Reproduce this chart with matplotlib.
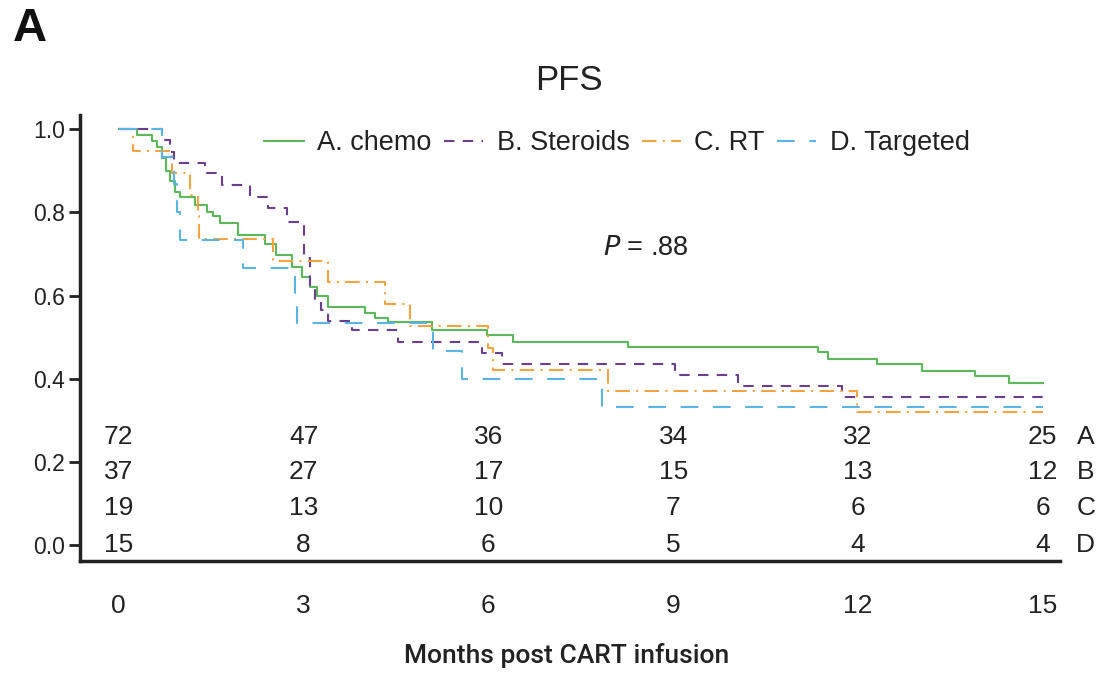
import matplotlib
matplotlib.use("Agg")
import matplotlib.pyplot as plt
import numpy as np

# ---- data ----
a_t = [0, 0.29, 0.54, 0.62, 0.70, 0.76, 0.83, 0.91, 0.99, 1.23, 1.43, 1.53, 1.64, 1.93, 2.37, 2.56, 2.81, 2.97,
       3.10, 3.21, 3.39, 3.99, 4.16, 4.37, 5.08, 5.97, 6.40, 8.26, 11.35, 11.51, 12.31, 13.04, 13.90, 14.46, 15.0]
a_s = [1.0, 0.986, 0.972, 0.958, 0.93, 0.90, 0.875, 0.85, 0.837, 0.817, 0.80, 0.79, 0.775, 0.745, 0.725, 0.697,
       0.668, 0.644, 0.62, 0.60, 0.572, 0.558, 0.546, 0.536, 0.517, 0.505, 0.488, 0.476, 0.464, 0.447, 0.435,
       0.418, 0.406, 0.389, 0.389]

b_t = [0, 0.70, 0.83, 0.89, 1.40, 1.67, 2.13, 2.42, 2.73, 3.00, 3.10, 3.18, 3.28, 3.39, 3.78, 4.53, 5.89, 6.22,
       9.03, 10.05, 11.74, 15.0]
b_s = [1.0, 0.973, 0.946, 0.919, 0.894, 0.865, 0.838, 0.81, 0.776, 0.69, 0.62, 0.59, 0.565, 0.54, 0.517, 0.488,
       0.462, 0.435, 0.408, 0.382, 0.356, 0.356]

c_t = [0, 0.23, 0.87, 1.15, 1.28, 1.30, 2.50, 3.39, 4.32, 4.72, 6.00, 6.08, 7.94, 11.98, 15.0]
c_s = [1.0, 0.947, 0.895, 0.842, 0.79, 0.737, 0.684, 0.632, 0.579, 0.526, 0.474, 0.421, 0.37, 0.32, 0.32]

d_t = [0, 0.70, 0.90, 0.95, 1.00, 2.01, 2.86, 2.90, 5.10, 5.57, 7.84, 15.0]
d_s = [1.0, 0.933, 0.867, 0.80, 0.733, 0.667, 0.60, 0.533, 0.467, 0.40, 0.333, 0.333]

labels = ["A. chemo", "B. Steroids", "C. RT", "D. Targeted"]
colors = ["#5cb85a", "#6b3f8f", "#f4a340", "#5ab4e6"]

risk_times = [0, 3, 6, 9, 12, 15]
risk_A = [72, 47, 36, 34, 32, 25]
risk_B = [37, 27, 17, 15, 13, 12]
risk_C = [19, 13, 10, 7, 6, 6]
risk_D = [15, 8, 6, 5, 4, 4]
risk_rows = ["A", "B", "C", "D"]

xticks = [0, 3, 6, 9, 12, 15]
yticks = [0.0, 0.2, 0.4, 0.6, 0.8, 1.0]

# ---- figure ----
plt.rcParams['font.family'] = ['Liberation Sans', 'DejaVu Sans']
fig = plt.figure(figsize=(10.99, 6.74), dpi=100)
ax = fig.add_axes([0.0728, 0.1677, 0.8917, 0.6617])

styles = [dict(linestyle='-'),
          dict(dashes=(5, 4)),
          dict(dashes=(7, 3, 1, 3)),
          dict(dashes=(8.5, 7))]
series = [(a_t, a_s), (b_t, b_s), (c_t, c_s), (d_t, d_s)]
for (t, s), lab, col, st in zip(series, labels, colors, styles):
    ax.step(t, s, where='post', color=col, lw=1.5, label=lab, **st)

ax.set_xlim(-0.63, 15.28)
ax.set_ylim(-0.038, 1.034)
ax.set_xticks(xticks)
ax.set_xticklabels([str(x) for x in xticks])
ax.set_yticks(yticks)
ax.set_yticklabels([f"{y:.1f}" for y in yticks])
ax.tick_params(axis='both', width=2, length=8, color='#222222', labelcolor='#222222')
ax.tick_params(axis='x', pad=24, length=0, labelsize=19)
ax.tick_params(axis='y', pad=3, labelsize=16.5)
for sp in ['top', 'right']:
    ax.spines[sp].set_visible(False)
for sp in ['left', 'bottom']:
    ax.spines[sp].set_linewidth(2.5)
    ax.spines[sp].set_color('#222222')

leg = ax.legend(loc='center', bbox_to_anchor=(0.548, 0.937), ncol=4, frameon=False, fontsize=19.5,
                handlelength=1.45, columnspacing=0.45, handletextpad=0.5, borderpad=0, borderaxespad=0)
for txt in leg.get_texts():
    txt.set_color('#222222')

ax.text(8.55, 0.714, r"$\it{P}$ = .88", fontsize=19.5, ha='center', va='center', color='#222222')

risk_vals = [risk_A, risk_B, risk_C, risk_D]
row_y = [0.26, 0.175, 0.089, 0.0]
for vals, ry, name in zip(risk_vals, row_y, risk_rows):
    for tx, v in zip(risk_times, vals):
        ax.text(tx, ry, str(v), ha='center', va='center', fontsize=19, color='#222222')
    ax.text(15.7, ry, name, ha='center', va='center', fontsize=19, color='#222222')

fig.text(0.518, 0.881, "PFS", ha='center', va='center', fontsize=25, color='#222222')
fig.text(0.012, 0.957, "A", ha='left', va='center', fontsize=34, fontweight='bold', color='#111111')
fig.text(0.516, 0.027, "Months post CART infusion", ha='center', va='center', fontsize=19,
         family=['Roboto', 'DejaVu Sans'], fontweight='medium', color='#222222')

fig.savefig("out.png", dpi=100)
